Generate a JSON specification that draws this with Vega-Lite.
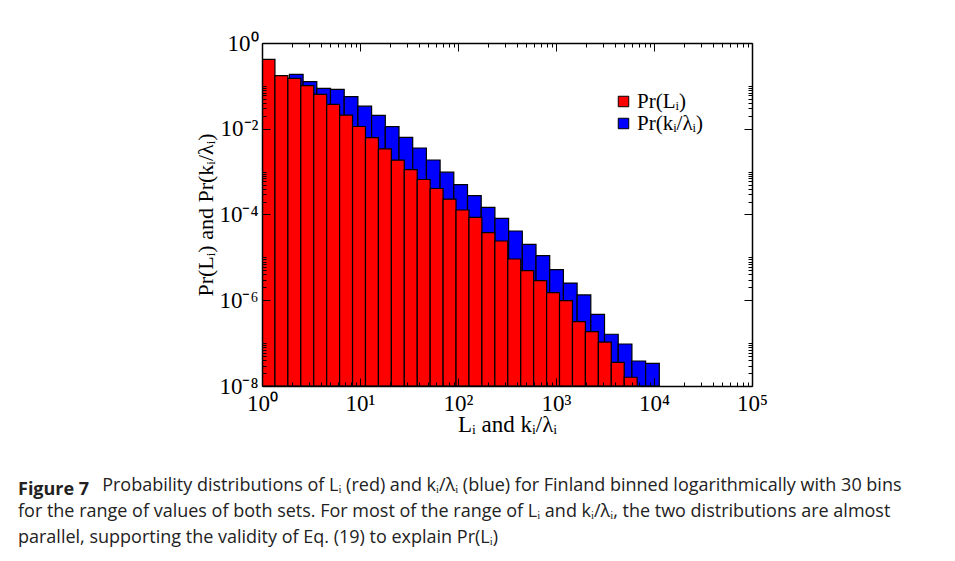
{
  "$schema": "https://vega.github.io/schema/vega-lite/v6.json",
  "width": 490,
  "height": 343,
  "autosize": {"type": "none"},
  "padding": {"left": 262, "top": 43, "right": 203, "bottom": 175},
  "background": "white",
  "config": {"view": {"stroke": null}},
  "title": {
    "text": "Figure 7",
    "subtitle": [
      "\u200b\u00a0\u00a0\u00a0\u00a0\u00a0\u00a0\u00a0\u00a0\u00a0\u00a0\u00a0\u00a0\u00a0\u00a0\u00a0\u00a0\u00a0\u00a0Probability distributions of Lᵢ (red) and kᵢ/λᵢ (blue) for Finland binned logarithmically with 30 bins",
      "for the range of values of both sets. For most of the range of Lᵢ and kᵢ/λᵢ, the two distributions are almost",
      "parallel, supporting the validity of Eq. (19) to explain Pr(Lᵢ)"
    ],
    "orient": "bottom",
    "anchor": "start",
    "frame": "group",
    "dx": -244,
    "offset": 45,
    "font": "Open Sans",
    "fontSize": 18,
    "fontWeight": "bold",
    "color": "#222222",
    "subtitleFont": "Open Sans",
    "subtitleFontSize": 18,
    "subtitleColor": "#222222",
    "subtitleLineHeight": 26,
    "subtitlePadding": -22
  },
  "data": {
    "values": [
      {"s": "Pr(kᵢ/λᵢ)", "x0": 1, "x1": 1.3797, "p": 0.08},
      {"s": "Pr(kᵢ/λᵢ)", "x0": 1.3797, "x1": 1.9037, "p": 0.12},
      {"s": "Pr(kᵢ/λᵢ)", "x0": 1.9037, "x1": 2.6266, "p": 0.1858},
      {"s": "Pr(kᵢ/λᵢ)", "x0": 2.6266, "x1": 3.6241, "p": 0.1253},
      {"s": "Pr(kᵢ/λᵢ)", "x0": 3.6241, "x1": 5.0003, "p": 0.0875},
      {"s": "Pr(kᵢ/λᵢ)", "x0": 5.0003, "x1": 6.8991, "p": 0.083},
      {"s": "Pr(kᵢ/λᵢ)", "x0": 6.8991, "x1": 9.5194, "p": 0.056},
      {"s": "Pr(kᵢ/λᵢ)", "x0": 9.5194, "x1": 13.134, "p": 0.03365},
      {"s": "Pr(kᵢ/λᵢ)", "x0": 13.134, "x1": 18.122, "p": 0.02056},
      {"s": "Pr(kᵢ/λᵢ)", "x0": 18.122, "x1": 25.003, "p": 0.01117},
      {"s": "Pr(kᵢ/λᵢ)", "x0": 25.003, "x1": 34.498, "p": 0.00631},
      {"s": "Pr(kᵢ/λᵢ)", "x0": 34.498, "x1": 47.598, "p": 0.003556},
      {"s": "Pr(kᵢ/λᵢ)", "x0": 47.598, "x1": 65.675, "p": 0.001866},
      {"s": "Pr(kᵢ/λᵢ)", "x0": 65.675, "x1": 90.61, "p": 0.000973},
      {"s": "Pr(kᵢ/λᵢ)", "x0": 90.61, "x1": 125.03, "p": 0.000495},
      {"s": "Pr(kᵢ/λᵢ)", "x0": 125.03, "x1": 172.51, "p": 0.000275},
      {"s": "Pr(kᵢ/λᵢ)", "x0": 172.51, "x1": 238.03, "p": 0.000147},
      {"s": "Pr(kᵢ/λᵢ)", "x0": 238.03, "x1": 328.42, "p": 8.15e-5},
      {"s": "Pr(kᵢ/λᵢ)", "x0": 328.42, "x1": 453.15, "p": 4.12e-5},
      {"s": "Pr(kᵢ/λᵢ)", "x0": 453.15, "x1": 625.17, "p": 2.01e-5},
      {"s": "Pr(kᵢ/λᵢ)", "x0": 625.17, "x1": 862.59, "p": 1.1e-5},
      {"s": "Pr(kᵢ/λᵢ)", "x0": 862.59, "x1": 1190.2, "p": 5.16e-6},
      {"s": "Pr(kᵢ/λᵢ)", "x0": 1190.2, "x1": 1642.2, "p": 2.52e-6},
      {"s": "Pr(kᵢ/λᵢ)", "x0": 1642.2, "x1": 2265.9, "p": 1.33e-6},
      {"s": "Pr(kᵢ/λᵢ)", "x0": 2265.9, "x1": 3126.1, "p": 4.7e-7},
      {"s": "Pr(kᵢ/λᵢ)", "x0": 3126.1, "x1": 4313.4, "p": 1.61e-7},
      {"s": "Pr(kᵢ/λᵢ)", "x0": 4313.4, "x1": 5951.5, "p": 9.55e-8},
      {"s": "Pr(kᵢ/λᵢ)", "x0": 5951.5, "x1": 8211.5, "p": 3.83e-8},
      {"s": "Pr(kᵢ/λᵢ)", "x0": 8211.5, "x1": 11330, "p": 3.38e-8},
      {"s": "Pr(Lᵢ)", "x0": 1, "x1": 1.3552, "p": 0.4169},
      {"s": "Pr(Lᵢ)", "x0": 1.3552, "x1": 1.8365, "p": 0.173},
      {"s": "Pr(Lᵢ)", "x0": 1.8365, "x1": 2.4889, "p": 0.15},
      {"s": "Pr(Lᵢ)", "x0": 2.4889, "x1": 3.3729, "p": 0.1012},
      {"s": "Pr(Lᵢ)", "x0": 3.3729, "x1": 4.5709, "p": 0.0635},
      {"s": "Pr(Lᵢ)", "x0": 4.5709, "x1": 6.1944, "p": 0.03715},
      {"s": "Pr(Lᵢ)", "x0": 6.1944, "x1": 8.3946, "p": 0.02089},
      {"s": "Pr(Lᵢ)", "x0": 8.3946, "x1": 11.376, "p": 0.01127},
      {"s": "Pr(Lᵢ)", "x0": 11.376, "x1": 15.417, "p": 0.006194},
      {"s": "Pr(Lᵢ)", "x0": 15.417, "x1": 20.893, "p": 0.003404},
      {"s": "Pr(Lᵢ)", "x0": 20.893, "x1": 28.314, "p": 0.001849},
      {"s": "Pr(Lᵢ)", "x0": 28.314, "x1": 38.371, "p": 0.001109},
      {"s": "Pr(Lᵢ)", "x0": 38.371, "x1": 52.0, "p": 0.0006546},
      {"s": "Pr(Lᵢ)", "x0": 52.0, "x1": 70.469, "p": 0.0004036},
      {"s": "Pr(Lᵢ)", "x0": 70.469, "x1": 95.499, "p": 0.0002275},
      {"s": "Pr(Lᵢ)", "x0": 95.499, "x1": 129.42, "p": 0.0001274},
      {"s": "Pr(Lᵢ)", "x0": 129.42, "x1": 175.39, "p": 8.59e-5},
      {"s": "Pr(Lᵢ)", "x0": 175.39, "x1": 237.68, "p": 3.767e-5},
      {"s": "Pr(Lᵢ)", "x0": 237.68, "x1": 322.11, "p": 2.41e-5},
      {"s": "Pr(Lᵢ)", "x0": 322.11, "x1": 436.52, "p": 9.16e-6},
      {"s": "Pr(Lᵢ)", "x0": 436.52, "x1": 591.56, "p": 4.9e-6},
      {"s": "Pr(Lᵢ)", "x0": 591.56, "x1": 801.68, "p": 2.86e-6},
      {"s": "Pr(Lᵢ)", "x0": 801.68, "x1": 1086.4, "p": 1.51e-6},
      {"s": "Pr(Lᵢ)", "x0": 1086.4, "x1": 1472.3, "p": 9.77e-7},
      {"s": "Pr(Lᵢ)", "x0": 1472.3, "x1": 1995.3, "p": 3.16e-7},
      {"s": "Pr(Lᵢ)", "x0": 1995.3, "x1": 2704.0, "p": 1.85e-7},
      {"s": "Pr(Lᵢ)", "x0": 2704.0, "x1": 3664.4, "p": 1.06e-7},
      {"s": "Pr(Lᵢ)", "x0": 3664.4, "x1": 4965.9, "p": 3.57e-8},
      {"s": "Pr(Lᵢ)", "x0": 4965.9, "x1": 6729.8, "p": 1.6e-8}
    ]
  },
  "layer": [
    {
      "mark": {"type": "rect", "stroke": "black", "strokeWidth": 1.2, "clip": true},
      "encoding": {
        "x": {
          "field": "x0", "type": "quantitative",
          "scale": {"type": "log", "domain": [1, 100000], "nice": false},
          "axis": {
            "orient": "bottom",
            "title": "Lᵢ and kᵢ/λᵢ",
            "titleFont": "Liberation Serif", "titleFontSize": 23, "titleFontWeight": "normal", "titleColor": "black", "titlePadding": -6,
            "values": [1,2,3,4,5,6,7,8,9,10,20,30,40,50,60,70,80,90,100,200,300,400,500,600,700,800,900,1000,2000,3000,4000,5000,6000,7000,8000,9000,10000,20000,30000,40000,50000,60000,70000,80000,90000,100000],
            "labelExpr": "datum.value==1?'10⁰':datum.value==10?'10¹':datum.value==100?'10²':datum.value==1000?'10³':datum.value==10000?'10⁴':datum.value==100000?'10⁵':''",
            "labelFont": "Liberation Serif", "labelFontSize": 23, "labelColor": "black",
            "labelOverlap": false, "labelFlush": false, "labelBound": false, "labelPadding": 14,
            "tickColor": "black", "tickWidth": 1,
            "tickSize": {"condition": {"test": "datum.value==1||datum.value==10||datum.value==100||datum.value==1000||datum.value==10000||datum.value==100000", "value": -8}, "value": -4},
            "domainColor": "black", "domainWidth": 1.5, "grid": false, "zindex": 1
          }
        },
        "x2": {"field": "x1"},
        "y": {
          "field": "p", "type": "quantitative",
          "scale": {"type": "log", "domain": [1e-8, 1], "nice": false},
          "axis": {
            "orient": "left",
            "title": "Pr(Lᵢ) and Pr(kᵢ/λᵢ)",
            "titleFont": "Liberation Serif", "titleFontSize": 22, "titleFontWeight": "normal", "titleColor": "black", "titlePadding": 1,
            "values": [1,0.1,0.09,0.08,0.07,0.06,0.05,0.04,0.03,0.02,0.01,0.001,0.0009,0.0008,0.0007,0.0006,0.0005,0.0004,0.0003,0.0002,0.0001,1e-5,9e-6,8e-6,7e-6,6e-6,5e-6,4e-6,3e-6,2e-6,1e-6,1e-7,9e-8,8e-8,7e-8,6e-8,5e-8,4e-8,3e-8,2e-8,1e-8],
            "labelExpr": "datum.value==1?'10⁰':datum.value==0.01?'10⁻²':datum.value==0.0001?'10⁻⁴':datum.value==1e-6?'10⁻⁶':datum.value==1e-8?'10⁻⁸':''",
            "labelFont": "Liberation Serif", "labelFontSize": 23, "labelColor": "black",
            "labelOverlap": false, "labelFlush": false, "labelBound": false, "labelPadding": 12,
            "tickColor": "black", "tickWidth": 1,
            "tickSize": {"condition": {"test": "datum.value==1||datum.value==0.01||datum.value==0.0001||datum.value==1e-6||datum.value==1e-8", "value": -8}, "value": -4},
            "domainColor": "black", "domainWidth": 1.5, "grid": false, "zindex": 1
          }
        },
        "y2": {"datum": 1e-8},
        "color": {
          "field": "s", "type": "nominal",
          "scale": {"domain": ["Pr(Lᵢ)", "Pr(kᵢ/λᵢ)"], "range": ["#ff0000", "#0000ff"]},
          "legend": {
            "orient": "top-right", "offset": 48, "title": null,
            "symbolType": "square", "symbolSize": 110, "symbolStrokeColor": "black", "symbolStrokeWidth": 1, "symbolOpacity": 1,
            "labelFont": "Liberation Serif", "labelFontSize": 21, "labelColor": "black", "rowPadding": 0, "labelOffset": 3
          }
        }
      }
    },
    {
      "mark": {"type": "rect", "fillOpacity": 0, "strokeOpacity": 0},
      "encoding": {
        "x": {
          "field": "x0", "type": "quantitative",
          "axis": {
            "orient": "top", "title": null, "labels": false,
            "values": [1,2,3,4,5,6,7,8,9,10,20,30,40,50,60,70,80,90,100,200,300,400,500,600,700,800,900,1000,2000,3000,4000,5000,6000,7000,8000,9000,10000,20000,30000,40000,50000,60000,70000,80000,90000,100000],
            "tickColor": "black", "tickWidth": 1,
            "tickSize": {"condition": {"test": "datum.value==1||datum.value==10||datum.value==100||datum.value==1000||datum.value==10000||datum.value==100000", "value": -8}, "value": -4},
            "domainColor": "black", "domainWidth": 1.5, "grid": false, "zindex": 1
          }
        },
        "x2": {"field": "x1"},
        "y": {
          "field": "p", "type": "quantitative",
          "axis": {
            "orient": "right", "title": null, "labels": false,
            "values": [1,0.1,0.09,0.08,0.07,0.06,0.05,0.04,0.03,0.02,0.01,0.001,0.0009,0.0008,0.0007,0.0006,0.0005,0.0004,0.0003,0.0002,0.0001,1e-5,9e-6,8e-6,7e-6,6e-6,5e-6,4e-6,3e-6,2e-6,1e-6,1e-7,9e-8,8e-8,7e-8,6e-8,5e-8,4e-8,3e-8,2e-8,1e-8],
            "tickColor": "black", "tickWidth": 1,
            "tickSize": {"condition": {"test": "datum.value==1||datum.value==0.01||datum.value==0.0001||datum.value==1e-6||datum.value==1e-8", "value": -8}, "value": -4},
            "domainColor": "black", "domainWidth": 1.5, "grid": false, "zindex": 1
          }
        },
        "y2": {"datum": 1e-8}
      }
    }
  ],
  "resolve": {"axis": {"x": "independent", "y": "independent"}}
}
